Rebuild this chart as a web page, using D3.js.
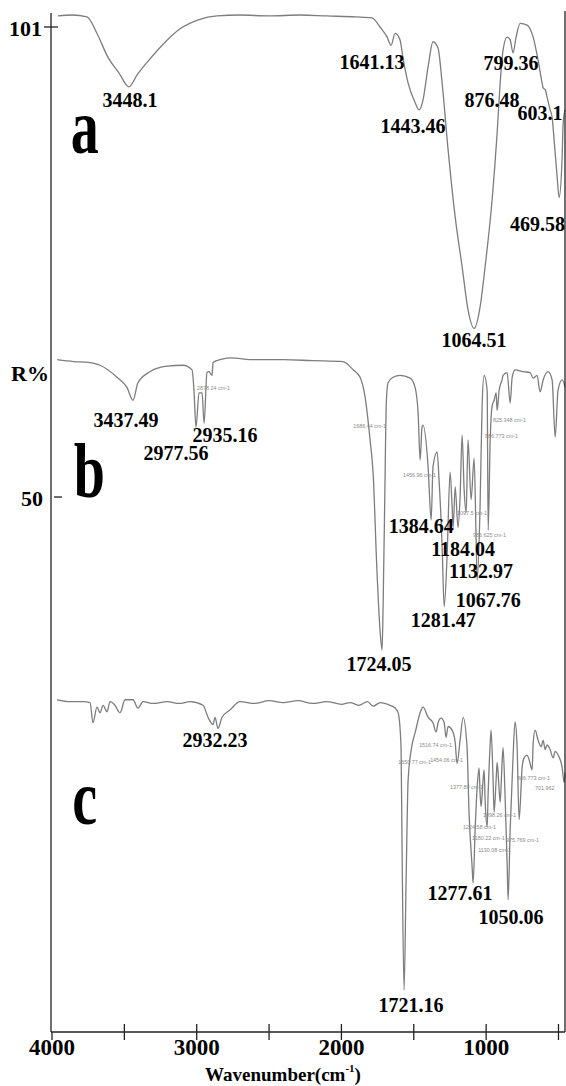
<!DOCTYPE html>
<html>
<head>
<meta charset="utf-8">
<script src="https://cdn.jsdelivr.net/npm/d3@7"></script>
<style>
  html, body { margin: 0; padding: 0; background: #fff; }
  svg { display: block; }
  .serif { font-family: "Liberation Serif", "Times New Roman", serif; font-weight: bold; fill: #000; }
  .small { font-family: "Liberation Sans", Arial, sans-serif; fill: #8a8a8a; }
</style>
</head>
<body>
<svg id="chart" width="566" height="1086"></svg>
<script>
// ---------------- DATA ----------------
// Wavenumber (cm-1) vs. R% on the shared (stacked) axis
const spectrumA = [
  [3959,102.2],[3860,102.3],[3758,102.1],[3689,100.3],[3613,97.7],[3537,96.0],[3468,94.5],
  [3412,95.8],[3336,97.3],[3240,99.0],[3115,100.8],[2984,101.8],[2860,102.2],[2700,102.3],
  [2500,102.2],[2286,102.3],[2100,102.2],[1900,102.1],[1788,102.0],[1733,101.0],[1684,99.9],
  [1657,99.0],[1629,100.3],[1595,99.6],[1574,97.6],[1539,94.9],[1491,92.8],[1463,92.0],
  [1436,93.1],[1401,96.7],[1367,99.4],[1332,98.7],[1304,94.9],[1263,87.7],[1214,80.4],
  [1166,75.0],[1125,70.3],[1083,68.3],[1042,70.6],[1007,75.0],[959,82.2],[924,89.5],
  [903,94.9],[883,98.5],[855,99.9],[834,99.6],[814,98.2],[793,99.9],[765,101.4],[717,101.2],
  [675,99.9],[641,97.4],[613,94.9],[606,94.4],[592,94.2],[579,93.4],[558,92.0],[544,91.2],
  [530,88.7],[509,84.7],[496,82.5],[475,86.8],[468,90.5],[455,92.0]
];
const spectrumB = [
  [3965,64.9],[3850,64.7],[3750,64.6],[3668,64.3],[3551,63.0],[3482,61.9],[3440,60.5],
  [3406,62.4],[3323,63.6],[3205,64.2],[3095,64.3],[3032,63.8],[3019,61.6],[3005,57.6],
  [2984,61.3],[2963,61.3],[2949,58.0],[2929,63.5],[2915,63.6],[2894,63.2],[2887,64.6],
  [2839,64.9],[2770,65.1],[2600,64.9],[2403,64.9],[2200,64.8],[1989,64.7],[1919,63.8],
  [1871,63.0],[1837,60.9],[1802,56.2],[1781,52.6],[1754,41.8],[1733,35.5],[1719,33.4],
  [1712,38.1],[1698,52.6],[1691,59.8],[1678,62.4],[1643,63.0],[1595,63.2],[1525,62.9],
  [1491,61.9],[1470,59.1],[1456,54.0],[1443,57.6],[1436,57.8],[1401,53.3],[1380,47.5],
  [1367,53.3],[1339,54.9],[1325,51.8],[1304,44.6],[1290,38.1],[1270,43.5],[1249,52.7],
  [1235,48.9],[1228,46.7],[1214,51.1],[1194,46.7],[1180,50.0],[1166,56.7],[1152,50.8],
  [1138,48.3],[1125,56.2],[1104,49.7],[1083,54.2],[1069,45.3],[1062,41.0],[1042,48.9],
  [1028,59.8],[1014,63.2],[993,61.6],[986,46.4],[972,56.2],[959,59.8],[945,60.5],[931,61.3],
  [924,59.4],[910,61.6],[890,62.7],[883,63.2],[855,63.5],[834,60.2],[820,63.0],[800,63.8],
  [745,63.6],[696,63.5],[675,62.9],[648,63.2],[627,61.4],[606,62.7],[572,63.6],[544,62.7],
  [523,56.5],[503,61.6],[475,62.7],[454,61.9]
];
const spectrumC = [
  [3965,28.0],[3876,27.8],[3786,27.8],[3737,27.7],[3717,25.5],[3689,27.2],[3668,26.6],
  [3647,27.4],[3620,26.7],[3599,27.8],[3565,27.4],[3530,26.6],[3495,28.0],[3440,28.0],
  [3406,27.1],[3371,27.8],[3300,27.6],[3205,27.8],[3120,27.6],[3046,27.8],[2956,27.4],
  [2922,26.1],[2887,25.3],[2873,26.1],[2853,24.9],[2825,26.1],[2770,26.9],[2701,27.8],
  [2600,27.6],[2500,27.9],[2403,27.7],[2300,27.9],[2200,27.6],[2100,27.8],[2000,27.5],
  [1940,27.7],[1880,27.4],[1820,27.8],[1780,27.3],[1733,27.7],[1664,27.4],[1629,27.1],
  [1608,26.6],[1588,22.9],[1581,12.0],[1567,-3.5],[1553,8.4],[1539,19.3],[1512,23.1],
  [1491,24.4],[1456,26.6],[1436,27.2],[1401,26.1],[1367,25.5],[1346,24.5],[1332,25.5],
  [1311,26.0],[1290,25.5],[1277,23.9],[1263,25.1],[1235,24.7],[1214,23.4],[1201,21.1],
  [1180,23.6],[1159,26.1],[1132,22.9],[1118,15.7],[1097,9.9],[1090,8.1],[1076,13.9],
  [1062,18.5],[1049,20.6],[1042,17.9],[1035,16.4],[1021,19.3],[1014,20.4],[1007,17.1],
  [993,14.2],[986,17.9],[973,22.9],[966,24.7],[952,19.3],[945,15.8],[931,19.3],[924,21.2],
  [910,18.2],[903,16.9],[890,21.1],[883,22.8],[869,17.5],[855,10.3],[848,6.3],[834,13.9],
  [814,21.8],[800,25.6],[786,22.9],[772,15.0],[751,20.7],[738,21.7],[717,22.0],[703,21.5],
  [682,20.4],[675,23.3],[661,24.7],[641,23.6],[620,22.9],[606,23.6],[592,22.6],[579,23.1],
  [558,22.6],[537,21.7],[523,22.4],[503,22.0],[475,20.7],[461,19.0],[454,20.1]
];

// Peak annotations: [text, wavenumber anchor, R% anchor]
const peakLabels = [
  ["3448.1",3461,93.1],["1641.13",1788,97.2],["1443.46",1505,90.3],["1064.51",1083,67.0],
  ["876.48",959,93.1],["799.36",829,97.1],["603.1",627,91.7],["469.58",645,79.6],
  ["3437.49",3489,58.4],["2977.56",3143,54.8],["2935.16",2804,56.7],["1724.05",1740,31.9],
  ["1384.64",1449,46.9],["1184.04",1159,44.4],["1132.97",1035,42.0],["1067.76",986,38.8],
  ["1281.47",1297,36.7],
  ["2932.23",2873,23.6],["1721.16",1519,-5.1],["1277.61",1180,7.0],["1050.06",828,4.4]
];
const smallLabels = [
  ["2878.24 cm-1",2998,61.8],["1686.44 cm-1",1919,57.7],["1456.96 cm-1",1574,52.4],
  ["1097.5 cm-1",1201,48.3],["986.625 cm-1",1090,45.9],["825.348 cm-1",952,58.4],
  ["886.773 cm-1",1007,56.6],
  ["1650.77 cm-1",1608,21.2],["1516.74 cm-1",1463,23.1],["1454.06 cm-1",1387,21.5],
  ["1377.89 cm-1",1249,18.5],["1224.58 cm-1",1159,14.2],["1180.22 cm-1",1097,13.0],
  ["1130.08 cm-1",1055,11.7],["1098.26 cm-1",1021,15.5],["975.769 cm-1",862,12.8],
  ["886.773 cm-1",786,19.5],["701.962",662,18.4]
];
const panelLetters = [["a",3870,87.3],["b",3850,50.0],["c",3860,14.5]];
const xTickValues = [4000,3500,3000,2500,2000,1500,1000,500];
const xTickLabels = [4000,3000,2000,1000];
const yTickValues = [101,50];
const yAxisLabel = "R%";
const xAxisLabel = "Wavenumber(cm";

// ---------------- CHART ----------------
const svg = d3.select("#chart");
const x = d3.scaleLinear().domain([4000, 455]).range([52, 565]);
const y = d3.scaleLinear().domain([-8.05, 101]).range([1032, 27]);

const line = d3.line().x(d => x(d[0])).y(d => y(d[1])).curve(d3.curveMonotoneX);

[spectrumA, spectrumB, spectrumC].forEach(s => {
  svg.append("path").datum(s)
    .attr("d", line)
    .attr("fill", "none")
    .attr("stroke", "#7d7d7d")
    .attr("stroke-width", 1.3)
    .attr("stroke-linejoin", "round");
});

// Axes lines
const axisG = svg.append("g").attr("stroke", "#222").attr("stroke-width", 1.3);
axisG.append("line").attr("x1", 51).attr("x2", 51).attr("y1", 13).attr("y2", y(-8.05));
axisG.append("line").attr("x1", 51).attr("x2", 565).attr("y1", y(-8.05)).attr("y2", y(-8.05));
axisG.append("line").attr("x1", 565).attr("x2", 565).attr("y1", 11).attr("y2", y(-8.05));

// x ticks
xTickValues.forEach(v => {
  const px = x(v);
  axisG.append("line").attr("x1", px).attr("x2", px)
    .attr("y1", v === 4000 ? y(-8.05) : y(-8.05) - 8).attr("y2", y(-8.05) + 8);
});
xTickLabels.forEach(v => {
  svg.append("text").attr("class", "serif")
    .attr("x", x(v)).attr("y", 1047)
    .attr("text-anchor", "middle").attr("dominant-baseline", "central")
    .attr("font-size", 23).text(v);
});
const xl = svg.append("text").attr("class", "serif")
  .attr("x", 283).attr("y", 1074)
  .attr("text-anchor", "middle").attr("dominant-baseline", "central")
  .attr("font-size", 19);
xl.append("tspan").text(xAxisLabel);
xl.append("tspan").attr("font-size", 11).attr("dy", -6).text("-1");
xl.append("tspan").attr("dy", 6).text(")");

// y ticks
yTickValues.forEach(v => {
  const py = y(v);
  axisG.append("line").attr("x1", v === 101 ? 44 : 54).attr("x2", v === 101 ? 58 : 62)
    .attr("y1", py).attr("y2", py);
  svg.append("text").attr("class", "serif")
    .attr("x", v === 101 ? 42 : 43).attr("y", py + 1)
    .attr("text-anchor", "end").attr("dominant-baseline", "central")
    .attr("font-size", 22).text(v);
});
svg.append("text").attr("class", "serif")
  .attr("x", 49).attr("y", 373)
  .attr("text-anchor", "end").attr("dominant-baseline", "central")
  .attr("font-size", 22).text(yAxisLabel);

// panel letters
panelLetters.forEach(([t, wn, v]) => {
  svg.append("text").attr("class", "serif")
    .attr("transform", `translate(${x(wn)},${y(v)}) scale(1,1.4)`)
    .attr("font-size", 56).text(t);
});

// peak labels
svg.append("g").selectAll("text").data(peakLabels).join("text")
  .attr("class", "serif")
  .attr("x", d => x(d[1])).attr("y", d => y(d[2]))
  .attr("text-anchor", "middle").attr("dominant-baseline", "central")
  .attr("font-size", 20)
  .text(d => d[0]);

svg.append("g").selectAll("text").data(smallLabels).join("text")
  .attr("class", "small")
  .attr("x", d => x(d[1])).attr("y", d => y(d[2]))
  .attr("dominant-baseline", "central")
  .attr("font-size", 5.4)
  .text(d => d[0]);
</script>
</body>
</html>
